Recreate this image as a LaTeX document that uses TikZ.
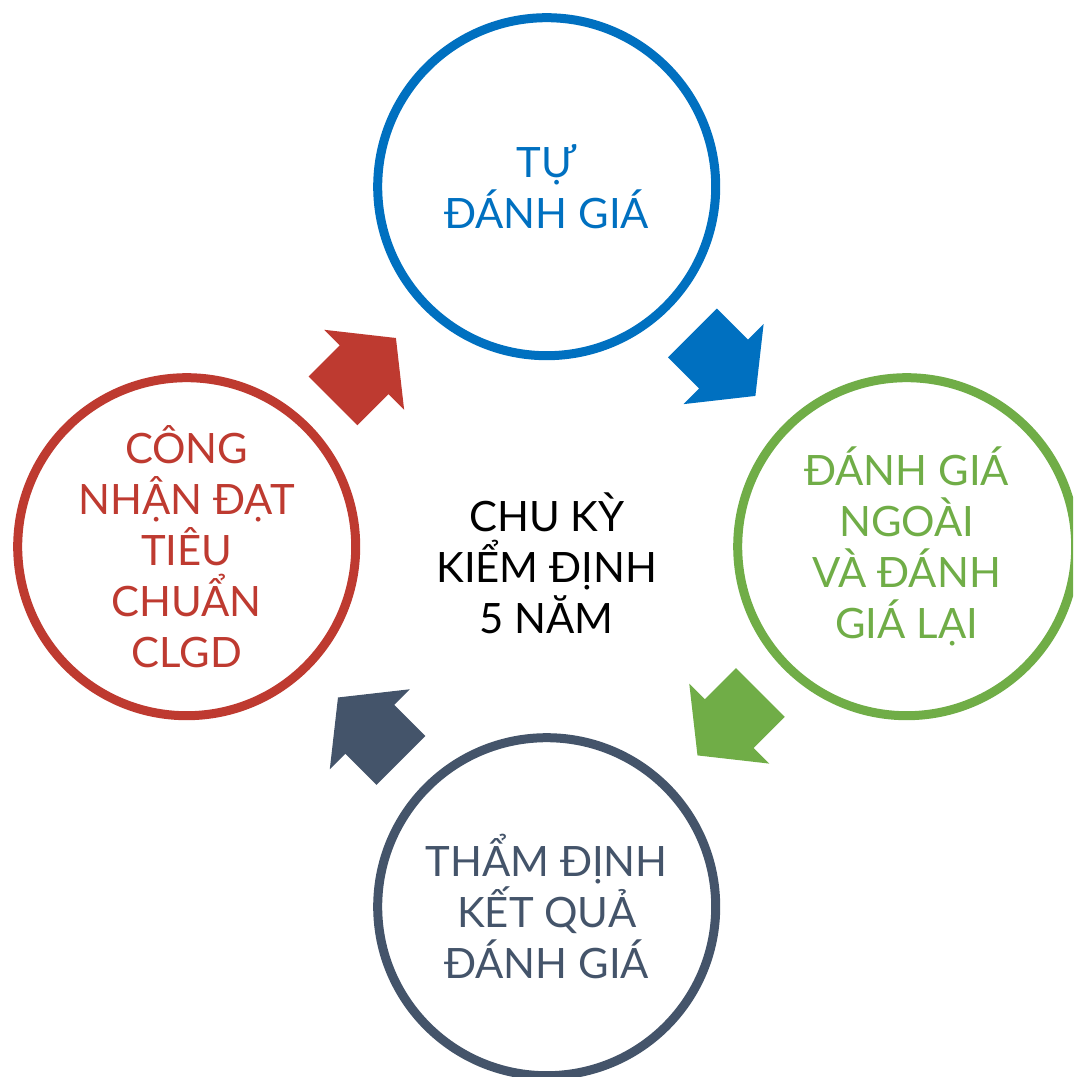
\documentclass[tikz,border=0pt]{standalone}
\usepackage{fontspec}
\setmainfont{Lato}
\definecolor{cycleblue}{RGB}{0,112,192}
\definecolor{cyclegreen}{RGB}{112,173,71}
\definecolor{cycleslate}{RGB}{68,84,106}
\definecolor{cyclered}{RGB}{190,58,48}

\begin{document}
\begin{tikzpicture}[
        stage/.style={circle, draw=#1, line width=0.9mm, minimum size=3.38cm, inner sep=0pt},
        stagetext/.style={text=#1, align=center, font=\fontsize{11.9}{14.5}\selectfont},
    ]
                \coordinate (LB) at (-5.467,-5.303);
                \coordinate (RT) at (5.263,5.467);
                \useasboundingbox (LB) rectangle (RT);
                \clip (LB) rectangle (RT);

                \node[stage=cycleblue] (self) at (0,3.6) {};
                \node[stage=cyclegreen] (external) at (3.6,0) {};
                \node[stage=cycleslate] (appraisal) at (0,-3.6) {};
                \node[stage=cyclered] (accredit) at (-3.6,0) {};
                \node[stagetext=cycleblue] (self text) at (self) {TỰ\\ĐÁNH GIÁ};
                \node[stagetext=cyclegreen] (external text) at (external) {ĐÁNH GIÁ\\NGOÀI\\VÀ ĐÁNH\\GIÁ LẠI};
                \node[stagetext=cycleslate] (appraisal text) at (appraisal) {THẨM ĐỊNH\\KẾT QUẢ\\ĐÁNH GIÁ};
                \node[stagetext=cyclered] (accredit text) at (accredit) {CÔNG\\NHẬN ĐẠT\\TIÊU\\CHUẨN\\CLGD};
                \node[stagetext=black, yshift=-0.17cm] (cycle) at (0,0) {CHU KỲ\\KIỂM ĐỊNH\\5 NĂM};

                \foreach \col [count=\i from 0] in {cycleblue,cyclegreen,cycleslate,cyclered}
                    \fill[\col, shift={({55.7-90*\i}:2.587)}, rotate={-45-90*\i}]
                        (0,0.345) -- (0.44,0.345) -- (0.44,0.566) -- (0.89,0)
                        -- (0.44,-0.566) -- (0.44,-0.345) -- (0,-0.345) -- cycle; % block arrows
\end{tikzpicture}
\end{document}
